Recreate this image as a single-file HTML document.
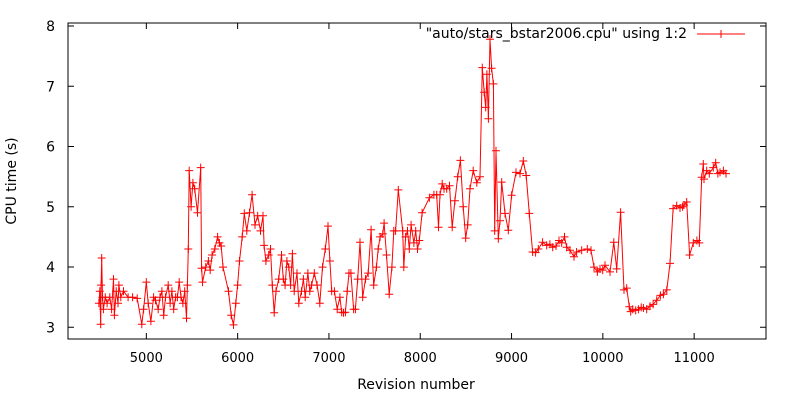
<!DOCTYPE html>
<html><head><meta charset="utf-8"><style>
html,body{margin:0;padding:0;background:#fff}
svg{display:block;font-family:"DejaVu Sans","Liberation Sans",sans-serif}
</style></head><body>
<svg id="chart" width="800" height="400" viewBox="0 0 800 400" xmlns="http://www.w3.org/2000/svg">
<rect x="0" y="0" width="800" height="400" fill="#fff"/>
<g id="axes"></g>
<g id="series"></g>
<rect x="68" y="23" width="698" height="316" fill="none" stroke="#000" stroke-width="1"/>
<text x="12" y="181" transform="rotate(-90 12 181)" text-anchor="middle" dominant-baseline="central" font-size="14" fill="#000">CPU time (s)</text>
<text x="416" y="389" text-anchor="middle" font-size="14" fill="#000">Revision number</text>
<g>
<text x="687" y="38" text-anchor="end" font-size="14" fill="#000">"auto/stars_bstar2006.cpu" using 1:2</text>
<line x1="697" y1="34" x2="745" y2="34" stroke="#f00" stroke-width="1"/>
<path d="M717 34h8M721 30v8" stroke="#f00" stroke-width="1"/>
</g>
</svg>
<script>
const revisions = [4480,4490,4500,4505,4511,4520,4530,4550,4570,4600,4620,4640,4650,4670,4690,4700,4720,4750,4800,4850,4900,4950,4970,5000,5020,5050,5080,5100,5130,5150,5170,5190,5210,5240,5260,5280,5300,5320,5340,5360,5380,5400,5420,5440,5450,5460,5470,5490,5510,5530,5560,5595,5605,5615,5650,5680,5700,5720,5750,5780,5800,5820,5840,5900,5930,5955,5980,6000,6020,6050,6073,6100,6130,6158,6190,6220,6250,6278,6290,6310,6340,6360,6380,6400,6420,6450,6480,6500,6520,6540,6560,6580,6600,6620,6650,6670,6700,6720,6740,6770,6790,6810,6840,6870,6900,6930,6960,6990,7010,7030,7060,7090,7120,7140,7160,7180,7200,7220,7240,7270,7290,7315,7340,7370,7400,7430,7462,7490,7520,7540,7560,7590,7604,7630,7660,7690,7710,7730,7760,7808,7820,7840,7860,7880,7900,7930,7950,7970,7990,8020,8100,8150,8180,8200,8216,8240,8260,8290,8320,8350,8380,8410,8440,8470,8498,8520,8545,8580,8620,8654,8680,8700,8717,8730,8746,8764,8782,8801,8815,8830,8855,8874,8892,8928,8965,9001,9049,9093,9129,9160,9195,9231,9264,9293,9340,9385,9420,9451,9487,9520,9549,9580,9604,9640,9684,9713,9768,9830,9870,9903,9940,9969,9998,10024,10078,10120,10152,10195,10232,10261,10290,10305,10327,10360,10389,10420,10444,10480,10517,10550,10590,10630,10663,10700,10736,10770,10809,10845,10874,10889,10918,10950,10991,11030,11057,11083,11100,11108,11137,11166,11210,11236,11260,11283,11320,11349,11386,11422,11440,11459];
const cpuTimes = [3.4,3.6,3.05,3.7,4.15,3.5,3.3,3.5,3.4,3.5,3.3,3.8,3.2,3.6,3.4,3.7,3.5,3.6,3.5,3.5,3.48,3.05,3.3,3.75,3.4,3.1,3.5,3.45,3.3,3.5,3.6,3.2,3.5,3.7,3.4,3.6,3.3,3.5,3.5,3.75,3.5,3.4,3.6,3.15,3.7,4.3,5.6,5.0,5.4,5.3,4.9,5.65,3.98,3.75,4.0,4.1,3.95,4.2,4.3,4.5,4.4,4.35,4.0,3.6,3.2,3.04,3.4,3.7,4.1,4.5,4.89,4.6,4.9,5.2,4.7,4.85,4.6,4.85,4.36,4.1,4.2,4.3,3.7,3.24,3.6,3.8,4.2,3.8,3.7,4.1,4.0,3.7,4.22,3.6,3.9,3.4,3.6,3.8,3.5,3.9,3.6,3.7,3.9,3.7,3.4,4.0,4.3,4.68,4.1,3.6,3.6,3.3,3.5,3.25,3.24,3.25,3.6,3.9,3.9,3.3,3.3,3.8,4.41,3.5,3.8,3.9,4.62,3.7,4.0,4.3,4.5,4.55,4.73,4.2,3.55,4.0,4.6,4.6,5.28,4.6,4.0,4.5,4.6,4.3,4.7,4.4,4.6,4.3,4.44,4.9,5.15,5.2,5.2,4.66,5.2,5.38,5.3,5.3,5.35,4.66,5.1,5.5,5.77,5.0,4.48,4.7,5.3,5.6,5.4,5.5,7.31,6.9,6.65,7.2,6.46,7.78,7.3,7.04,4.6,5.93,4.47,4.77,5.41,4.89,4.61,5.19,5.57,5.55,5.76,5.52,4.89,4.25,4.24,4.3,4.41,4.36,4.38,4.33,4.35,4.44,4.4,4.5,4.33,4.28,4.17,4.25,4.28,4.3,4.28,4.0,3.92,3.97,3.95,4.03,3.92,4.41,3.97,4.91,3.62,3.65,3.34,3.26,3.3,3.28,3.3,3.33,3.32,3.3,3.35,3.38,3.45,3.53,3.55,3.62,4.06,4.97,5.02,4.98,5.0,5.03,5.08,4.2,4.4,4.44,4.4,5.49,5.71,5.46,5.6,5.55,5.65,5.73,5.55,5.57,5.6,5.55];
const xTicks = [5000,6000,7000,8000,9000,10000,11000];
const yTicks = [3,4,5,6,7,8];

const X0=68, X1=766, Y0=339, Y1=23;
const xMin=4142, xMax=11787, yMin=2.806, yMax=8.05;
function xScale(v){return X0+(v-xMin)/(xMax-xMin)*(X1-X0);}
function yScale(v){return Y0-(v-yMin)/(yMax-yMin)*(Y0-Y1);}
const NS="http://www.w3.org/2000/svg";
const axes=document.getElementById('axes');
const series=document.getElementById('series');
function mk(tag,attrs,parent){const e=document.createElementNS(NS,tag);for(const k in attrs)e.setAttribute(k,attrs[k]);parent.appendChild(e);return e;}

xTicks.forEach(t=>{
  const x=xScale(t);
  const tk=mk('path',{d:`M${x} ${Y0}v-6M${x} ${Y1}v6`,stroke:'#000','stroke-width':1},axes);
  
  
  const lb=mk('text',{x:x,y:362,'text-anchor':'middle','font-size':13,fill:'#000'},axes);
  lb.textContent=t;
  
  
});
yTicks.forEach(t=>{
  const y=yScale(t);
  const tk=mk('path',{d:`M${X0} ${y}h6M${X1} ${y}h-6`,stroke:'#000','stroke-width':1},axes);
  
  
  const lb=mk('text',{x:55,y:y+5,'text-anchor':'end','font-size':14,fill:'#000'},axes);
  lb.textContent=t;
  
  
});

const pts=revisions.map((r,i)=>[xScale(r),yScale(cpuTimes[i])]);
const line=mk('polyline',{points:pts.map(p=>p[0].toFixed(1)+','+p[1].toFixed(1)).join(' '),fill:'none',stroke:'#f00','stroke-width':1},series);


pts.forEach(p=>{
  const m=mk('path',{d:`M${(p[0]-4).toFixed(1)} ${p[1].toFixed(1)}h8M${p[0].toFixed(1)} ${(p[1]-4).toFixed(1)}v8`,stroke:'#f00','stroke-width':1},series);
  
  
});
</script>
</body></html>
